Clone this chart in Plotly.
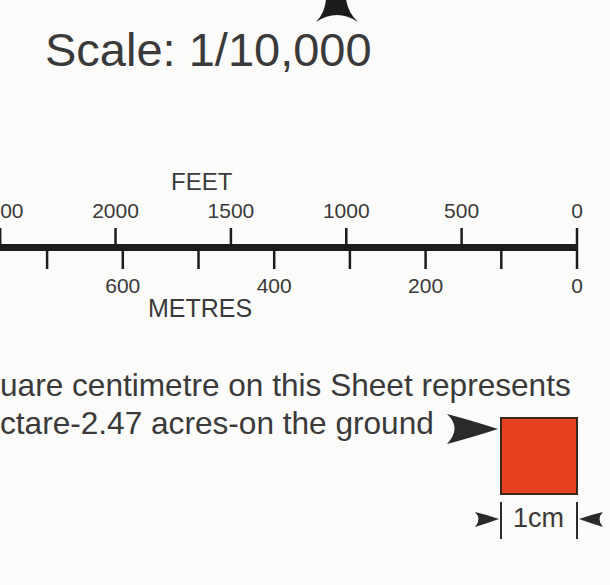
import plotly.graph_objects as go

# ---- data ----
feet_ticks = [0, 500, 1000, 1500, 2000, 2500]
feet_labels = ["0", "500", "1000", "1500", "2000", "2500"]
metre_ticks = [0, 100, 200, 300, 400, 500, 600, 700]
metre_label_values = [0, 200, 400, 600]
metre_labels = ["0", "200", "400", "600"]
FT_TO_M = 0.3048
bar_extent_m = 800

W, H = 610, 585
K = 0.757          # px per metre
X0 = 577           # pixel of zero
TXT = "#3a3a3a"
INK = "#1c1c1c"
BG = "#fbfbf9"

def px(x):
    return x / W

def py(y):
    return 1 - y / H

fig = go.Figure()

# main bar
fig.add_trace(go.Scatter(x=[bar_extent_m, 0], y=[247.5, 247.5], mode="lines",
                         line=dict(color=INK, width=7), hoverinfo="skip", showlegend=False))
# feet ticks (upper)
fx, fy = [], []
for f in feet_ticks:
    m = f * FT_TO_M
    fx += [m, m, None]
    fy += [228, 247, None]
fig.add_trace(go.Scatter(x=fx, y=fy, mode="lines", line=dict(color=INK, width=2.5),
                         hoverinfo="skip", showlegend=False))
# metre ticks (lower)
mx, my = [], []
for m in metre_ticks:
    mx += [m, m, None]
    my += [247, 269, None]
fig.add_trace(go.Scatter(x=mx, y=my, mode="lines", line=dict(color=INK, width=2.5),
                         hoverinfo="skip", showlegend=False))
# labels
fig.add_trace(go.Scatter(x=[f * FT_TO_M for f in feet_ticks], y=[213] * len(feet_ticks),
                         mode="text", text=feet_labels,
                         textfont=dict(family="Liberation Sans, Arial", size=21, color=TXT),
                         hoverinfo="skip", showlegend=False))
fig.add_trace(go.Scatter(x=metre_label_values, y=[288] * len(metre_label_values),
                         mode="text", text=metre_labels,
                         textfont=dict(family="Liberation Sans, Arial", size=21, color=TXT),
                         hoverinfo="skip", showlegend=False))

font = "Liberation Sans, Arial, sans-serif"
ann = [
    dict(x=px(208), y=py(49), text="Scale: 1/10,000", font=dict(size=47, color=TXT, family=font)),
    dict(x=px(202), y=py(181), text="FEET", font=dict(size=24, color=TXT, family=font)),
    dict(x=px(200), y=py(308), text="METRES", font=dict(size=25, color=TXT, family=font)),
    dict(x=px(-2), y=py(385), text="uare centimetre on this Sheet represents", xanchor="left",
         font=dict(size=31.6, color=TXT, family=font)),
    dict(x=px(-2), y=py(423), text="ctare-2.47 acres-on the ground", xanchor="left",
         font=dict(size=31.6, color=TXT, family=font)),
    dict(x=px(538), y=py(518), text="1cm", font=dict(size=27, color=TXT, family=font)),
]
annotations = []
for a in ann:
    d = dict(xref="paper", yref="paper", showarrow=False, yanchor="middle", xanchor="center")
    d.update(a)
    annotations.append(d)

shapes = [
    # north arrow tip
    dict(type="path", xref="paper", yref="paper",
         path=f"M {px(316)} {py(22)} Q {px(325)} {py(13)} {px(326)} {py(-1)} L {px(346)} {py(-1)} "
              f"Q {px(348)} {py(13)} {px(358)} {py(22)} Q {px(337)} {py(8)} {px(316)} {py(22)} Z",
         fillcolor=INK, line=dict(width=0)),
    # pointer arrow to square
    dict(type="path", xref="paper", yref="paper",
         path=f"M {px(498)} {py(429)} Q {px(470)} {py(420)} {px(447)} {py(414)} "
              f"Q {px(462)} {py(428)} {px(447)} {py(444)} Q {px(470)} {py(438)} {px(498)} {py(429)} Z",
         fillcolor="#2a2a2a", line=dict(width=0)),
    # red square
    dict(type="rect", xref="paper", yref="paper", x0=px(501), x1=px(577), y0=py(418), y1=py(494),
         fillcolor="#e8411f", line=dict(color="#3a2519", width=2)),
    # 1cm bars
    dict(type="line", xref="paper", yref="paper", x0=px(501), x1=px(501), y0=py(502), y1=py(539),
         line=dict(color="#2a2a2a", width=2)),
    dict(type="line", xref="paper", yref="paper", x0=px(577), x1=px(577), y0=py(502), y1=py(539),
         line=dict(color="#2a2a2a", width=2)),
    # 1cm arrowheads
    dict(type="path", xref="paper", yref="paper",
         path=f"M {px(499)} {py(519)} Q {px(488)} {py(515)} {px(475)} {py(512)} "
              f"Q {px(482)} {py(519)} {px(475)} {py(527)} Q {px(488)} {py(523)} {px(499)} {py(519)} Z",
         fillcolor="#2a2a2a", line=dict(width=0)),
    dict(type="path", xref="paper", yref="paper",
         path=f"M {px(579)} {py(519)} Q {px(590)} {py(515)} {px(603)} {py(512)} "
              f"Q {px(596)} {py(519)} {px(603)} {py(527)} Q {px(590)} {py(523)} {px(579)} {py(519)} Z",
         fillcolor="#2a2a2a", line=dict(width=0)),
]

fig.update_layout(
    width=W, height=H,
    margin=dict(l=0, r=0, t=0, b=0),
    paper_bgcolor=BG, plot_bgcolor=BG,
    xaxis=dict(range=[X0 / K, (X0 - W) / K], visible=False, fixedrange=True),
    yaxis=dict(range=[H, 0], visible=False, fixedrange=True),
    annotations=annotations, shapes=shapes, showlegend=False,
)

fig.write_html(
    "out.html",
    config={"displayModeBar": False},
    post_script="document.body.style.margin='0';document.body.style.overflow='hidden';"
                "document.body.style.background='" + BG + "';",
)
